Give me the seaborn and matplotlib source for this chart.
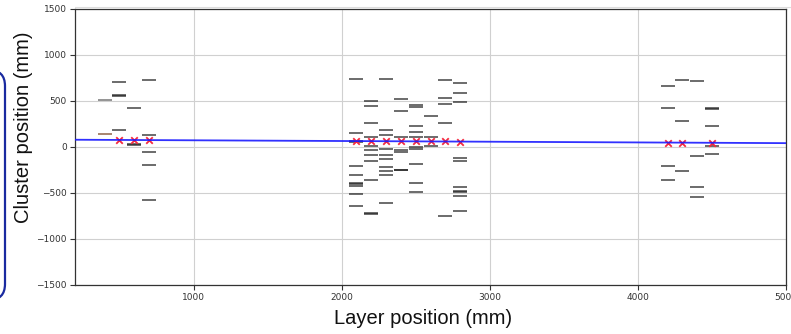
import matplotlib
matplotlib.use("Agg")
import matplotlib.pyplot as plt
from matplotlib.patches import FancyBboxPatch
from matplotlib.lines import Line2D
import seaborn as sns
import pandas as pd

# ---- data -------------------------------------------------------------
layer_500 = [702, 565, 555, 180]
layer_600 = [424, 33, 17]
layer_700 = [731, 134, -51, -196, -580]
layer_2100 = [738, 147, 70, 58, -211, -309, -389, -404, -422, -507, -643]
layer_2200 = [497, 441, 266, 112, 16, -31, -88, -150, -360, -712, -728]
layer_2300 = [737, 188, 126, -18, -85, -127, -221, -266, -308, -610]
layer_2400 = [524, 394, 104, -33, -58, -246, -252]
layer_2500 = [455, 435, 224, 160, 108, -2, -20, -185, -395, -488]
layer_2600 = [340, 106, 7]
layer_2700 = [724, 528, 463, 264, -748]
layer_2800 = [700, 583, 485, -116, -154, -433, -480, -489, -533, -697]
layer_4200 = [666, 424, -203, -357]
layer_4300 = [731, 286, -262]
layer_4400 = [713, -102, -431, -548]
layer_4500 = [424, 416, 231, 14, -77]

layer_400_grey = [511]
layer_400_brown = [141]

fit_layers = [500, 600, 700, 2100, 2200, 2300, 2400, 2500, 2600, 2700, 2800,
              4200, 4300, 4500]
fit_values = [76.5, 75.8, 75.0, 64.4, 63.6, 62.9, 62.1, 61.3, 60.6, 59.8, 59.0,
              48.3, 47.5, 46.0]

line_x = [200, 5000]
line_y = [79, 42]

x_ticks = [1000, 2000, 3000, 4000, 5000]
y_ticks = [-1500, -1000, -500, 0, 500, 1000, 1500]

# ---- build table -------------------------------------------------------
groups = {
    500: layer_500, 600: layer_600, 700: layer_700,
    2100: layer_2100, 2200: layer_2200, 2300: layer_2300, 2400: layer_2400,
    2500: layer_2500, 2600: layer_2600, 2700: layer_2700, 2800: layer_2800,
    4200: layer_4200, 4300: layer_4300, 4400: layer_4400, 4500: layer_4500,
}
rows = [(lx, v) for lx, vals in groups.items() for v in vals]
clusters = pd.DataFrame(rows, columns=["layer", "pos"])
grey400 = pd.DataFrame({"layer": [400] * len(layer_400_grey), "pos": layer_400_grey})
brown400 = pd.DataFrame({"layer": [400] * len(layer_400_brown), "pos": layer_400_brown})
fits = pd.DataFrame({"layer": fit_layers, "pos": fit_values})
line = pd.DataFrame({"layer": line_x, "pos": line_y})

# ---- figure -------------------------------------------------------------
sns.set_style("whitegrid")
plt.rcParams["font.family"] = ["DejaVu Sans"]

fig = plt.figure(figsize=(7.91, 3.34), dpi=100)
ax = fig.add_axes([75 / 791, 1 - 285 / 334, (786 - 75) / 791, (285 - 9) / 334])

seg_kw = dict(marker="_", s=92, linewidth=1.15, legend=False, ax=ax)
sns.scatterplot(data=clusters, x="layer", y="pos", color="#1e1e1e", alpha=0.8, **seg_kw)
sns.scatterplot(data=grey400, x="layer", y="pos", color="#6e6e6e", alpha=0.9, **seg_kw)
sns.scatterplot(data=brown400, x="layer", y="pos", color="#8a5a3c", alpha=0.9, **seg_kw)

sns.scatterplot(data=fits, x="layer", y="pos", marker="x", s=22, linewidth=1.3,
                color="#f5283f", legend=False, ax=ax, zorder=3)
sns.lineplot(data=line, x="layer", y="pos", color="#1a1aff", linewidth=1.3,
             alpha=0.9, legend=False, ax=ax, zorder=4)

ax.set_xlim(200, 5000)
ax.set_ylim(-1500, 1500)
ax.set_xticks(x_ticks)
ax.set_yticks(y_ticks)
ax.set_xticklabels([str(t) for t in x_ticks])
ax.set_yticklabels([str(t).replace("-", "\u2212") for t in y_ticks])
ax.set_xlabel("")
ax.set_ylabel("")
ax.grid(True, color="#d0d0d0", linewidth=0.8)
for sp in ax.spines.values():
    sp.set_color("#333333")
    sp.set_linewidth(0.9)
ax.tick_params(axis="both", which="major", labelsize=6.5, colors="#333333",
               length=3.5, width=0.8, direction="out", bottom=True, left=True,
               pad=2.5)

# large overlaid axis titles
fig.text(24 / 791, 1 - 127 / 334, "Cluster position (mm)", rotation=90,
         ha="center", va="center", fontsize=14.5, family=["Liberation Sans"],
         color="#111111")
fig.text(423 / 791, 1 - 318 / 334, "Layer position (mm)", ha="center",
         va="center", fontsize=14.5, family=["Liberation Sans"], color="#111111")

# rounded blue frame at left edge
box = FancyBboxPatch((-40, 334 - 300), 45, 230,
                     boxstyle="round,pad=0,rounding_size=16",
                     transform=None, fill=False, edgecolor="#1a2aa0",
                     linewidth=1.6, clip_on=False)
fig.patches.append(box)

# faint screenshot borders
fig.add_artist(Line2D([75 / 791, 1], [1 - 6.5 / 334] * 2, transform=fig.transFigure,
                      color="#dddddd", linewidth=0.8))

fig.savefig("out.png", dpi=100)
